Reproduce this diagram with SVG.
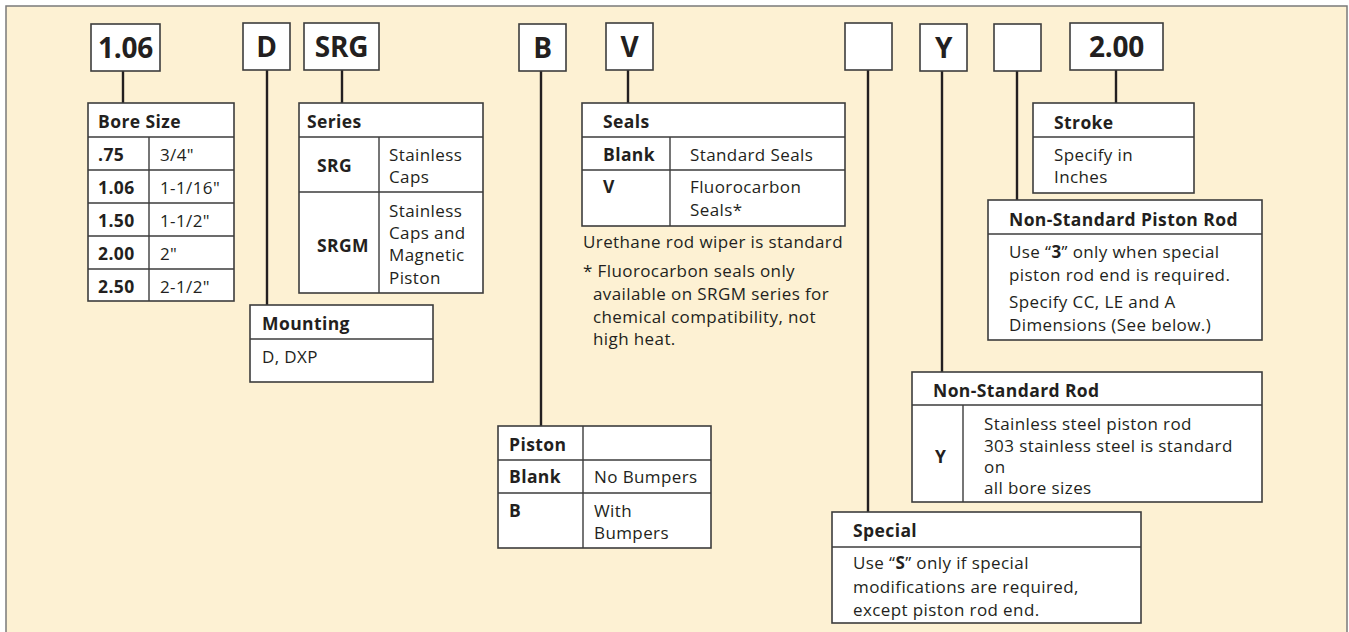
<svg xmlns="http://www.w3.org/2000/svg" width="1349" height="632" viewBox="0 0 1349 632">
<style>
.bg{fill:#fdf1d3;stroke:#7a7a7a;stroke-width:1.5}
.box{fill:#ffffff;stroke:#3d3d3d;stroke-width:1.6}
.ln{stroke:#3d3d3d;stroke-width:1.4;fill:none}
.con{stroke:#231f20;stroke-width:2.4;fill:none}
text{font-family:"Open Sans","Liberation Sans",sans-serif;fill:#231f20;font-size:17px;letter-spacing:0.4px}
.b{font-weight:bold;font-size:17.5px}
tspan.b{font-size:17px}
.big{font-weight:bold;font-size:28px;text-anchor:middle;letter-spacing:-0.3px}
</style>
<rect class="bg" x="6" y="6" width="1341" height="640"/>

<g id="connectors">
<line class="con" x1="123" y1="71" x2="123" y2="103"/>
<line class="con" x1="267" y1="70" x2="267" y2="305"/>
<line class="con" x1="342" y1="70" x2="342" y2="103"/>
<line class="con" x1="541" y1="71" x2="541" y2="426"/>
<line class="con" x1="628" y1="70" x2="628" y2="103"/>
<line class="con" x1="868" y1="70" x2="868" y2="512"/>
<line class="con" x1="942" y1="71" x2="942" y2="372"/>
<line class="con" x1="1017" y1="71" x2="1017" y2="200"/>
<line class="con" x1="1116" y1="70" x2="1116" y2="103"/>
</g>

<g id="code-106"><rect class="box" x="91" y="24" width="69" height="47"/><text class="big" x="125.5" y="57.5">1.06</text></g>
<g id="code-d"><rect class="box" x="243" y="23" width="47" height="47"/><text class="big" x="266.5" y="56.5">D</text></g>
<g id="code-srg"><rect class="box" x="304" y="23" width="75" height="47"/><text class="big" x="341.5" y="56.5">SRG</text></g>
<g id="code-b"><rect class="box" x="519" y="24" width="47" height="47"/><text class="big" x="542.5" y="57.5">B</text></g>
<g id="code-v"><rect class="box" x="606" y="23" width="47" height="47"/><text class="big" x="629.5" y="56.5">V</text></g>
<g id="code-blank1"><rect class="box" x="845" y="23" width="47" height="47"/></g>
<g id="code-y"><rect class="box" x="920" y="24" width="47" height="47"/><text class="big" x="943.5" y="57.5">Y</text></g>
<g id="code-blank2"><rect class="box" x="994" y="24" width="47" height="47"/></g>
<g id="code-200"><rect class="box" x="1070" y="23" width="93" height="47"/><text class="big" x="1116.5" y="56.5">2.00</text></g>

<g id="bore-size">
<rect class="box" x="88" y="103" width="146" height="198"/>
<path class="ln" d="M88 137H234M88 170H234M88 203H234M88 236H234M88 269H234M149 137V301"/>
<text class="b" x="98" y="128">Bore Size</text>
<text class="b" x="98" y="161">.75</text><text x="160" y="161">3/4"</text>
<text class="b" x="98" y="194">1.06</text><text x="160" y="194">1-1/16"</text>
<text class="b" x="98" y="227">1.50</text><text x="160" y="227">1-1/2"</text>
<text class="b" x="98" y="260">2.00</text><text x="160" y="260">2"</text>
<text class="b" x="98" y="293">2.50</text><text x="160" y="293">2-1/2"</text>
</g>

<g id="series">
<rect class="box" x="299" y="103" width="184" height="190"/>
<path class="ln" d="M299 137H483M299 192H483M379 137V293"/>
<text class="b" x="307" y="128">Series</text>
<text class="b" x="317" y="172">SRG</text>
<text x="389" y="161">Stainless</text><text x="389" y="183">Caps</text>
<text class="b" x="317" y="252">SRGM</text>
<text x="389" y="217">Stainless</text><text x="389" y="239">Caps and</text><text x="389" y="261">Magnetic</text><text x="389" y="284">Piston</text>
</g>

<g id="mounting">
<rect class="box" x="250" y="305" width="183" height="77"/>
<path class="ln" d="M250 339H433"/>
<text class="b" x="262" y="330">Mounting</text>
<text x="262" y="363">D, DXP</text>
</g>

<g id="seals">
<rect class="box" x="582" y="103" width="263" height="123"/>
<path class="ln" d="M582 137H845M582 170H845M670 137V226"/>
<text class="b" x="603" y="128">Seals</text>
<text class="b" x="603" y="161">Blank</text><text x="690" y="161">Standard Seals</text>
<text class="b" x="603" y="193">V</text><text x="690" y="193">Fluorocarbon</text><text x="690" y="216">Seals*</text>
<text x="583" y="248">Urethane rod wiper is standard</text>
<text x="583" y="277">* Fluorocarbon seals only</text>
<text x="593" y="300">available on SRGM series for</text>
<text x="593" y="323">chemical compatibility, not</text>
<text x="593" y="345">high heat.</text>
</g>

<g id="piston">
<rect class="box" x="498" y="426" width="213" height="122"/>
<path class="ln" d="M498 460H711M498 493H711M583 426V548"/>
<text class="b" x="509" y="451">Piston</text>
<text class="b" x="509" y="483">Blank</text><text x="594" y="483">No Bumpers</text>
<text class="b" x="509" y="517">B</text><text x="594" y="517">With</text><text x="594" y="539">Bumpers</text>
</g>

<g id="stroke">
<rect class="box" x="1033" y="103" width="161" height="90"/>
<path class="ln" d="M1033 137H1194"/>
<text class="b" x="1054" y="129">Stroke</text>
<text x="1054" y="161">Specify in</text><text x="1054" y="183">Inches</text>
</g>

<g id="non-standard-piston-rod">
<rect class="box" x="988" y="200" width="274" height="140"/>
<path class="ln" d="M988 234H1262"/>
<text class="b" x="1009" y="226">Non-Standard Piston Rod</text>
<text x="1009" y="258">Use “<tspan class="b">3</tspan>” only when special</text>
<text x="1009" y="281">piston rod end is required.</text>
<text x="1009" y="308">Specify CC, LE and A</text>
<text x="1009" y="331">Dimensions (See below.)</text>
</g>

<g id="non-standard-rod">
<rect class="box" x="912" y="372" width="350" height="130"/>
<path class="ln" d="M912 405H1262M963 405V502"/>
<text class="b" x="933" y="397">Non-Standard Rod</text>
<text class="b" x="935" y="463">Y</text>
<text x="984" y="430">Stainless steel piston rod</text>
<text x="984" y="452">303 stainless steel is standard</text>
<text x="984" y="473">on</text>
<text x="984" y="494">all bore sizes</text>
</g>

<g id="special">
<rect class="box" x="832" y="512" width="309" height="111"/>
<path class="ln" d="M832 547H1141"/>
<text class="b" x="853" y="537">Special</text>
<text x="853" y="569">Use “<tspan class="b">S</tspan>” only if special</text>
<text x="853" y="593">modifications are required,</text>
<text x="853" y="616">except piston rod end.</text>
</g>
</svg>
